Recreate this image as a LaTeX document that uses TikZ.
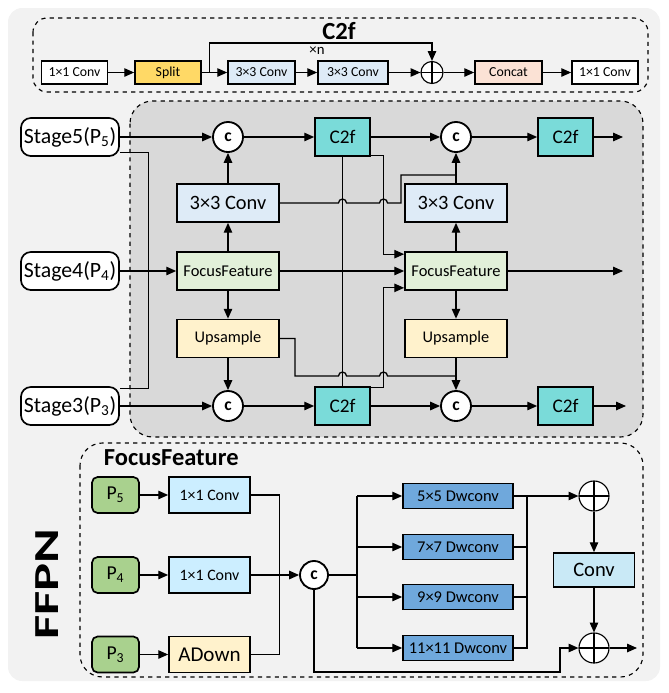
\documentclass[tikz,border=0pt]{standalone}
\usepackage{fontspec}
\usepackage{graphicx}
\setmainfont{Carlito}
\usetikzlibrary{arrows.meta,positioning,calc}
\definecolor{bgout}{HTML}{F2F2F2}
\definecolor{bgmid}{HTML}{D9D9D9}
\definecolor{splitc}{HTML}{FFD966}
\definecolor{convc}{HTML}{DEEBF7}
\definecolor{concatc}{HTML}{FBE2D5}
\definecolor{ffc}{HTML}{E2F0D9}
\definecolor{upc}{HTML}{FFF2CC}
\definecolor{c2fc}{HTML}{7ADBD9}
\definecolor{pc}{HTML}{A9D18E}
\definecolor{onec}{HTML}{CCEEFF}
\definecolor{dwc}{HTML}{6FA8DC}
\definecolor{convb}{HTML}{C9E9F6}

\begin{document}
\begin{tikzpicture}[x=0.025cm, y=-0.025cm,
    box/.style={draw, line width=1.2pt, inner sep=0pt, align=center},
    rowbox/.style={box, minimum width=1.65cm, minimum height=0.575cm, font=\fontsize{9.8}{11}\selectfont},
    stage/.style={box, fill=white, rounded corners=7pt, minimum width=2.45cm, minimum height=0.95cm, font=\fontsize{15.5}{17}\selectfont},
    midbox/.style={box, minimum width=2.55cm, minimum height=0.95cm},
    c2fbox/.style={box, fill=c2fc, minimum width=1.375cm, minimum height=0.95cm, font=\fontsize{13.7}{15}\selectfont},
    pbox/.style={box, fill=pc, rounded corners=4pt, minimum width=1.175cm, minimum height=0.9cm, font=\fontsize{14}{16}\selectfont},
    onebox/.style={box, minimum width=2.025cm, minimum height=0.9cm},
    dwbox/.style={box, fill=dwc, minimum width=2.75cm, minimum height=0.625cm, font=\fontsize{11.7}{13}\selectfont},
    cat/.style={circle, draw, line width=1.3pt, fill=white, inner sep=0pt, minimum size=0.75cm, font=\bfseries\fontsize{12.5}{13}\selectfont},
    oplus/.style={circle, draw, line width=0.8pt, fill=white, inner sep=0pt, minimum size=#1,
        path picture={\draw[line width=0.8pt] (path picture bounding box.north) -- (path picture bounding box.south)
        (path picture bounding box.west) -- (path picture bounding box.east);}},
    arrow/.style={-{Triangle[length=7pt,width=6pt]}, line width=0.9pt},
    line/.style={line width=0.9pt}
]
\useasboundingbox (0,0) rectangle (669,693);
% backgrounds
\fill[bgout, rounded corners=10pt] (8,8) rectangle (660,681);
\draw[dashed, line width=0.8pt, rounded corners=10pt] (33,18) rectangle (648,92);
\draw[dashed, line width=0.8pt, fill=bgmid, rounded corners=16pt] (130,101) rectangle (643,437);
\draw[dashed, line width=0.8pt, rounded corners=16pt] (80,443) rectangle (643,677);

% C2f row
\node[font=\bfseries\fontsize{17.5}{18}\selectfont] (c2ftitle) at (339,31) {C2f};
\node[font=\fontsize{10.5}{11}\selectfont] (xn) at (317,51) {×n};
\node[rowbox, fill=white] (t1) at (74.5,72.5) {1×1 Conv};
\node[rowbox, fill=splitc] (split) at (168,72.5) {Split};
\node[rowbox, fill=convc, minimum width=1.675cm] (t3) at (261.5,72.5) {3×3 Conv};
\node[rowbox, fill=convc, minimum width=1.75cm] (t4) at (353,72.5) {3×3 Conv};
\node[oplus=0.55cm] (plus) at (432,72.5) {};
\node[rowbox, fill=concatc, minimum width=1.675cm] (concat) at (508.5,72.5) {Concat};
\node[rowbox, fill=white] (t7) at (605,72.5) {1×1 Conv};
\draw[arrow] (t1) -- (split);
\draw[arrow] (split) -- (t3);
\draw[arrow] (t3) -- (t4);
\draw[arrow] (t4) -- (plus);
\draw[arrow] (plus) -- (concat);
\draw[arrow] (concat) -- (t7);
\draw[arrow] ($(split.east)+(8,0)$) -- ++(0,-29.5) -| (plus);

% neck
\node[stage] (s5) at (70,137) {Stage5(P\textsubscript{5})};
\node[stage] (s4) at (70,271) {Stage4(P\textsubscript{4})};
\node[stage] (s3) at (70,406) {Stage3(P\textsubscript{3})};
\node[cat] (c1) at (228,137) {c};
\node[cat] (c2) at (228,406) {c};
\node[cat] (c3) at (456,137) {c};
\node[cat] (c4) at (456,406) {c};
\node[midbox, fill=convc, font=\fontsize{14.5}{16}\selectfont] (conv1) at (228,203) {3×3 Conv};
\node[midbox, fill=ffc, font=\fontsize{11.7}{13}\selectfont] (ff1) at (228,271) {FocusFeature};
\node[midbox, fill=upc, font=\fontsize{11.6}{13}\selectfont] (up1) at (228,338.5) {Upsample};
\node[midbox, fill=convc, font=\fontsize{14.5}{16}\selectfont] (conv2) at (456,203) {3×3 Conv};
\node[midbox, fill=ffc, font=\fontsize{11.7}{13}\selectfont] (ff2) at (456,271) {FocusFeature};
\node[midbox, fill=upc, font=\fontsize{11.6}{13}\selectfont] (up2) at (456,338.5) {Upsample};
\node[c2fbox] (c2fa) at (342.5,137) {C2f};
\node[c2fbox] (c2fb) at (342.5,406) {C2f};
\node[c2fbox] (c2fc) at (565.5,137) {C2f};
\node[c2fbox] (c2fd) at (565.5,406) {C2f};
\coordinate (outa) at (623,137);
\coordinate (outf) at (623,271);
\coordinate (outb) at (626,406);

\draw[line] ($(s5.south east)+(0,-4)$) -- ++(29,0) |- ($(s3.north east)+(0,2)$);
\draw[arrow] (s5) -- (c1);
\draw[arrow] (s4) -- (ff1);
\draw[arrow] (s3) -- (c2);
\draw[arrow] (ff1) -- (conv1);
\draw[arrow] (conv1) -- (c1);
\draw[arrow] (ff1) -- (up1);
\draw[arrow] (up1) -- (c2);
\draw[arrow] (c1) -- (c2fa);
\draw[arrow] (c2) -- (c2fb);
\draw[line] (c2fa) -- (c2fb);
\draw[arrow] (c2fa) -- (c3);
\draw[arrow] (c2fb) -- (c4);
\draw[arrow] (c3) -- (c2fc);
\draw[arrow] (c4) -- (c2fd);
\draw[arrow] (c2fc) -- (outa);
\draw[arrow] (c2fd) -- (outb);
\draw[arrow] (ff1) -- (ff2);
\draw[arrow] (ff2) -- (outf);
\draw[arrow] (ff2) -- (conv2);
\draw[arrow] (conv2) -- (c3);
\draw[arrow] (ff2) -- (up2);
\draw[arrow] (up2) -- (c4);
\draw[arrow] ($(c2fa.south east)+(0,-1)$) -- ++(13,0) |- ($(ff2.north west)+(0,3)$);
\draw[arrow] ($(c2fb.north east)+(0,1)$) -- ++(13,0) |- ($(ff2.south west)+(0,-3)$);
\draw[line] (conv1.east) -- (338.5,203) arc (180:360:4) -- (379.5,203) arc (180:360:4) -- (401,203) -- (401,175) -- (456,175);
\draw[line] (up1.east) -- (295,338.5) -- (295,376) -- (338.5,376) arc (180:360:4) -- (379.5,376) arc (180:360:4) -- (456,376);

% FocusFeature detail
\node[anchor=west, font=\bfseries\fontsize{17.4}{19}\selectfont] (fftitle) at (99,458) {FocusFeature};
\node[rotate=90, font=\bfseries\fontsize{25}{25}\selectfont] (ffpn) at (47,584) {\scalebox{1.5}[1]{FFPN}};
\node[pbox] (p5) at (115.5,495) {P\textsubscript{5}};
\node[pbox] (p4) at (115.5,575) {P\textsubscript{4}};
\node[pbox] (p3) at (115.5,654.5) {P\textsubscript{3}};
\node[onebox, fill=onec, font=\fontsize{11.3}{13}\selectfont] (cva) at (209.5,495) {1×1 Conv};
\node[onebox, fill=onec, font=\fontsize{11.3}{13}\selectfont] (cvb) at (209.5,575) {1×1 Conv};
\node[onebox, fill=upc, font=\fontsize{15}{17}\selectfont] (adown) at (209.5,654.5) {ADown};
\node[cat, minimum size=0.7cm] (cc) at (314,575) {c};
\node[dwbox] (dw5) at (458,496) {5×5 Dwconv};
\node[dwbox] (dw7) at (458,547) {7×7 Dwconv};
\node[dwbox] (dw9) at (458,597) {9×9 Dwconv};
\node[dwbox] (dw11) at (458,648) {11×11 Dwconv};
\node[oplus=0.75cm] (plus1) at (594,496) {};
\node[onebox, fill=convb, minimum height=0.85cm, font=\fontsize{14.6}{16}\selectfont] (convf) at (594,570) {Conv};
\node[oplus=0.75cm] (plus2) at (594,648) {};
\coordinate (br) at (357,575);
\coordinate (jn) at (527,496);
\coordinate (outp) at (637,648);

\draw[arrow] (p5) -- (cva);
\draw[arrow] (p4) -- (cvb);
\draw[arrow] (p3) -- (adown);
\draw[line] (cva.east) -- ++(29,0) |- (adown.east);
\draw[arrow] (cvb) -- (cc);
\draw[line] (cc) -- (br);
\draw[line] (br |- dw5) -- (br |- dw11);
\draw[arrow] (br |- dw5) -- (dw5);
\draw[arrow] (br |- dw7) -- (dw7);
\draw[arrow] (br |- dw9) -- (dw9);
\draw[arrow] (br |- dw11) -- (dw11);
\draw[line] (jn) |- (dw11.east);
\draw[line] (dw7.east) -- (dw7.east -| jn);
\draw[line] (dw9.east) -- (dw9.east -| jn);
\draw[arrow] (dw5) -- (plus1);
\draw[arrow] (plus1) -- (convf);
\draw[arrow] (convf) -- (plus2);
\draw[arrow] (cc.south) |- (560,672) |- (plus2);
\draw[arrow] (plus2) -- (outp);
\end{tikzpicture}
\end{document}
